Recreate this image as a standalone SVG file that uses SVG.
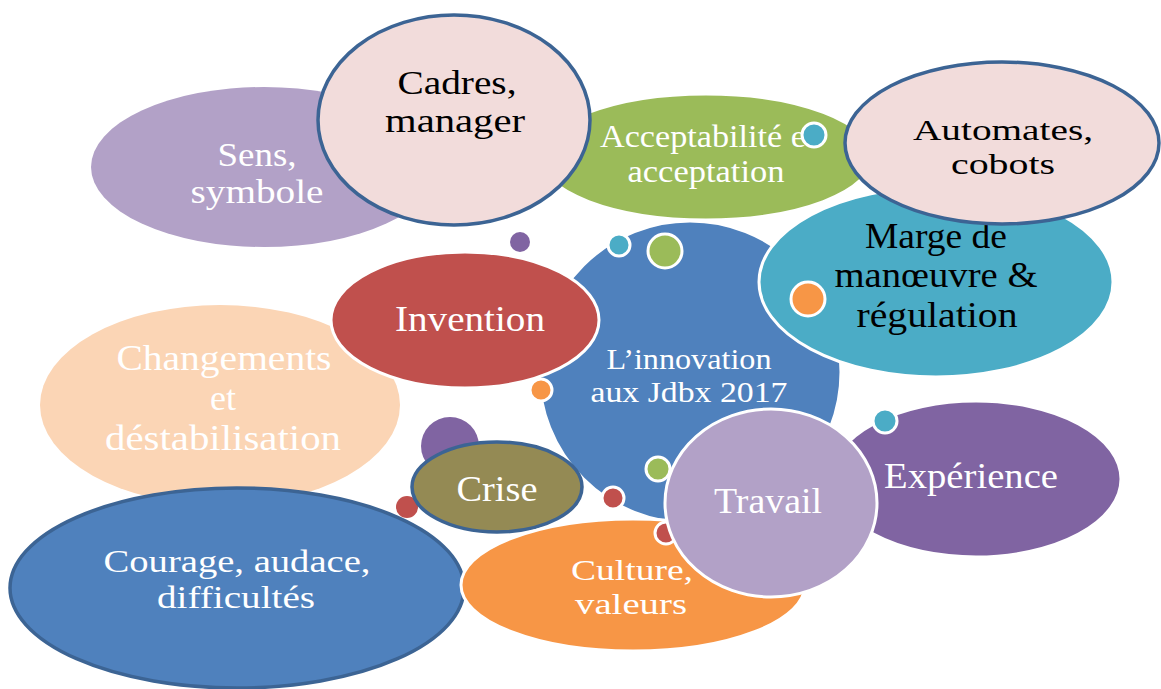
<svg xmlns="http://www.w3.org/2000/svg" width="1161" height="689" viewBox="0 0 1161 689">
<style>
text{font-family:"Liberation Serif","DejaVu Serif",serif;text-anchor:middle}
.w{fill:#ffffff}
.k{fill:#000000}
.ws{stroke:#ffffff;stroke-width:3}
.bs{stroke:#3c6494;stroke-width:3.5}
.dot{stroke:#ffffff;stroke-width:3}
</style>
<rect width="1161" height="689" fill="#ffffff"/>
<g id="changements">
<ellipse cx="220" cy="405" rx="180" ry="100" fill="#fbd5b5"/>
<text class="w" font-size="36" x="224" y="370" textLength="215" lengthAdjust="spacingAndGlyphs">Changements</text>
<text class="w" font-size="36" x="223" y="410">et</text>
<text class="w" font-size="36" x="223" y="450" textLength="236" lengthAdjust="spacingAndGlyphs">déstabilisation</text>
</g>
<g id="sens">
<ellipse cx="264" cy="167" rx="173" ry="80" fill="#b2a1c7"/>
<text class="w" font-size="33" x="257" y="166" textLength="79" lengthAdjust="spacingAndGlyphs">Sens,</text>
<text class="w" font-size="33" x="257" y="203" textLength="133" lengthAdjust="spacingAndGlyphs">symbole</text>
</g>
<g id="acceptabilite">
<ellipse cx="706" cy="157" rx="166" ry="63" fill="#9bbb59" class="ws"/>
<text class="w" font-size="31" x="703" y="147" textLength="206" lengthAdjust="spacingAndGlyphs">Acceptabilité e</text>
<text class="w" font-size="31" x="706" y="182" textLength="157" lengthAdjust="spacingAndGlyphs">acceptation</text>
</g>
<g id="cadres">
<ellipse cx="454" cy="120" rx="136" ry="105" fill="#f2dcdb" class="bs"/>
<text class="k" font-size="34" x="457" y="94" textLength="119" lengthAdjust="spacingAndGlyphs">Cadres,</text>
<text class="k" font-size="34" x="455" y="132" textLength="140" lengthAdjust="spacingAndGlyphs">manager</text>
</g>
<g id="innovation">
<circle cx="690" cy="372" r="151" fill="#4f81bd" class="ws"/>
<text class="w" font-size="29" x="689" y="369" textLength="165" lengthAdjust="spacingAndGlyphs">L’innovation</text>
<text class="w" font-size="29" x="689" y="402" textLength="197" lengthAdjust="spacingAndGlyphs">aux Jdbx 2017</text>
</g>
<g id="marge">
<ellipse cx="936" cy="282" rx="177" ry="95" fill="#4bacc6" class="ws"/>
<text class="k" font-size="35" x="936" y="248" textLength="142" lengthAdjust="spacingAndGlyphs">Marge de</text>
<text class="k" font-size="35" x="936" y="287" textLength="203" lengthAdjust="spacingAndGlyphs">manœuvre &amp;</text>
<text class="k" font-size="35" x="937" y="327" textLength="161" lengthAdjust="spacingAndGlyphs">régulation</text>
</g>
<g id="automates">
<ellipse cx="1002" cy="143" rx="157" ry="81" fill="#f2dcdb" class="bs"/>
<text class="k" font-size="30" x="1003" y="140" textLength="180" lengthAdjust="spacingAndGlyphs">Automates,</text>
<text class="k" font-size="30" x="1003" y="174" textLength="104" lengthAdjust="spacingAndGlyphs">cobots</text>
</g>
<g id="invention">
<ellipse cx="465" cy="320" rx="134" ry="68" fill="#c0504d" class="ws"/>
<text class="w" font-size="36" x="470" y="331" textLength="150" lengthAdjust="spacingAndGlyphs">Invention</text>
</g>
<g id="courage">
<ellipse cx="237" cy="588" rx="227" ry="100" fill="#4f81bd" class="bs"/>
<text class="w" font-size="32" x="237" y="572" textLength="267" lengthAdjust="spacingAndGlyphs">Courage, audace,</text>
<text class="w" font-size="32" x="236" y="608" textLength="158" lengthAdjust="spacingAndGlyphs">difficultés</text>
</g>
<g id="dot-purple-big">
<circle cx="450" cy="446" r="29" fill="#8064a2"/>
</g>
<g id="dot-red-crise">
<circle cx="407" cy="507" r="11" fill="#c0504d"/>
</g>
<g id="crise">
<ellipse cx="497" cy="487" rx="85" ry="45" fill="#948a54" class="bs"/>
<text class="w" font-size="36" x="497" y="501" textLength="81" lengthAdjust="spacingAndGlyphs">Crise</text>
</g>
<g id="culture">
<ellipse cx="633" cy="585" rx="172" ry="66" fill="#f79646" class="ws"/>
<text class="w" font-size="30" x="632" y="580" textLength="122" lengthAdjust="spacingAndGlyphs">Culture,</text>
<text class="w" font-size="30" x="631" y="614" textLength="112" lengthAdjust="spacingAndGlyphs">valeurs</text>
</g>
<g id="experience">
<ellipse cx="976" cy="479" rx="145" ry="78" fill="#8064a2" class="ws"/>
<text class="w" font-size="36" x="971" y="488" textLength="174" lengthAdjust="spacingAndGlyphs">Expérience</text>
</g>
<g id="dot-red-travail">
<circle cx="666" cy="533" r="11" fill="#c0504d" class="dot"/>
</g>
<g id="travail">
<ellipse cx="771" cy="503" rx="106" ry="94" fill="#b2a1c7" class="ws"/>
<text class="w" font-size="36" x="768" y="513" textLength="108" lengthAdjust="spacingAndGlyphs">Travail</text>
</g>
<g id="dots">
<circle cx="520" cy="242" r="10" fill="#8064a2"/>
<circle cx="619" cy="245" r="11" fill="#4bacc6" class="dot"/>
<circle cx="665" cy="251" r="17" fill="#9bbb59" class="dot"/>
<circle cx="808" cy="299" r="17" fill="#f79646" class="dot"/>
<circle cx="814" cy="135" r="12" fill="#4bacc6" class="dot"/>
<circle cx="541" cy="390" r="11" fill="#f79646" class="dot"/>
<circle cx="885" cy="421" r="12" fill="#4bacc6" class="dot"/>
<circle cx="658" cy="469" r="12" fill="#9bbb59" class="dot"/>
<circle cx="613" cy="498" r="11" fill="#c0504d" class="dot"/>
</g>
<g id="connectors"></g>
</svg>
